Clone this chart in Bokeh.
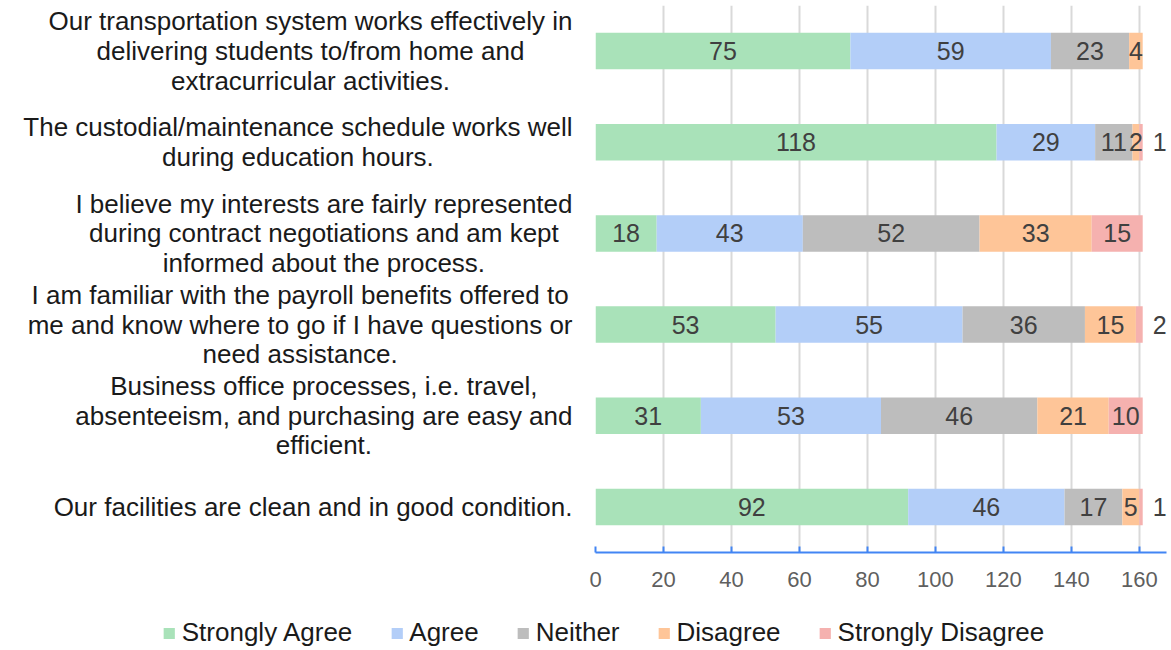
from bokeh.plotting import figure
from bokeh.models import (ColumnDataSource, Range1d, FactorRange, LabelSet, Legend)
from bokeh.core.properties import value
from bokeh.layouts import row, column
from bokeh.embed import file_html
from bokeh.resources import INLINE

# ---------------- data (top to bottom as shown) ----------------
categories = [
    "Our transportation system works effectively in\ndelivering students to/from home and\nextracurricular activities.",
    "The custodial/maintenance schedule works well\nduring education hours.",
    "I believe my interests are fairly represented\nduring contract negotiations and am kept\ninformed about the process.",
    "I am familiar with the payroll benefits offered to\nme and know where to go if I have questions or\nneed assistance.",
    "Business office processes, i.e. travel,\nabsenteeism, and purchasing are easy and\nefficient.",
    "Our facilities are clean and in good condition.",
]
series = ["Strongly Agree", "Agree", "Neither", "Disagree", "Strongly Disagree"]
strongly_agree = [75, 118, 18, 53, 31, 92]
agree = [59, 29, 43, 55, 53, 46]
neither = [23, 11, 52, 36, 46, 17]
disagree = [4, 2, 33, 15, 21, 5]
strongly_disagree = [0, 1, 15, 2, 10, 1]
x_ticks = [0, 20, 40, 60, 80, 100, 120, 140, 160]

colors = ["#A9E2B9", "#B3CEF8", "#BDBDBD", "#FEC598", "#F5B1AF"]
FONT = "Liberation Sans"

values = [strongly_agree, agree, neither, disagree, strongly_disagree]
factors = list(reversed(categories))

src = ColumnDataSource(dict(cat=categories, **{s: v for s, v in zip(series, values)}))

# ---------------- value labels ----------------
lx, ly, lt = [], [], []
for i, cat in enumerate(categories):
    left = 0
    total = sum(v[i] for v in values)
    for k, v in enumerate(values):
        val = v[i]
        if val > 0:
            if k == len(values) - 1 and val < 3:
                lx.append(total + 5)      # tiny last segment: written just past the bar
            else:
                lx.append(left + val / 2)
            ly.append(cat)
            lt.append(str(val))
        left += val
lab_src = ColumnDataSource(dict(x=lx, y=ly, t=lt))

y_range = FactorRange(*factors, range_padding=0)

# ---------------- left: category labels ----------------
pl = figure(frame_width=585, frame_height=547, x_range=Range1d(0, 1), y_range=y_range,
            toolbar_location=None, output_backend="svg",
            min_border_left=0, min_border_right=0, min_border_top=5, min_border_bottom=0)
pl.axis.visible = False
pl.grid.visible = False
pl.outline_line_color = None
pl.text(x=1.0, y="cat", text="cat", source=src, x_offset=-13,
        anchor="center_right", text_align="center", text_baseline="middle",
        text_font=value(FONT), text_font_size="26px", text_color="#1a1a1a",
        text_line_height=0.99)

# ---------------- right: bars ----------------
p = figure(frame_width=571, frame_height=547, x_range=Range1d(0, 168), y_range=y_range,
           toolbar_location=None, output_backend="svg",
           min_border_left=10, min_border_right=5, min_border_top=5, min_border_bottom=45)
p.hbar_stack(series, y="cat", height=0.4, color=colors, source=src, line_color=None)
p.add_layout(LabelSet(x="x", y="y", text="t", source=lab_src, text_align="center",
                      text_baseline="middle", text_font=value(FONT), text_font_size="25px",
                      text_color="#404040"))
p.yaxis.visible = False
p.ygrid.visible = False
p.outline_line_color = None
p.xaxis.ticker = x_ticks
p.xgrid.ticker = x_ticks
p.xgrid.grid_line_color = "#D9D9D9"
p.xgrid.grid_line_width = 2
p.xaxis.axis_line_color = "#4285F4"
p.xaxis.axis_line_width = 2
p.xaxis.major_tick_line_color = "#4285F4"
p.xaxis.major_tick_line_width = 2
p.xaxis.major_tick_in = 6
p.xaxis.major_tick_out = 0
p.xaxis.minor_tick_line_color = None
p.xaxis.major_label_standoff = 19
p.xaxis.major_label_text_font = FONT
p.xaxis.major_label_text_font_size = "22px"
p.xaxis.major_label_text_color = "#5f5f5f"

# ---------------- legend strip ----------------
pg = figure(frame_width=1136, frame_height=51, x_range=Range1d(-10, -9), y_range=y_range,
            toolbar_location=None, output_backend="svg",
            min_border_left=35, min_border_right=0, min_border_top=0, min_border_bottom=0)
pg.axis.visible = False
pg.grid.visible = False
pg.outline_line_color = None
rs = pg.hbar_stack(series, y="cat", height=0.4, color=colors, source=src, line_color=None)
legend = Legend(items=[(s, [r]) for s, r in zip(series, rs)], orientation="horizontal",
                location="bottom", glyph_width=14, glyph_height=14, label_standoff=6,
                spacing=37, padding=0, margin=0, border_line_color=None,
                background_fill_alpha=0, label_text_font=FONT,
                label_text_font_size="26px", label_text_color="#1a1a1a")
pg.add_layout(legend, "center")

layout = column(row(pl, p), pg)
open("out.html", "w").write(file_html(layout, INLINE))
